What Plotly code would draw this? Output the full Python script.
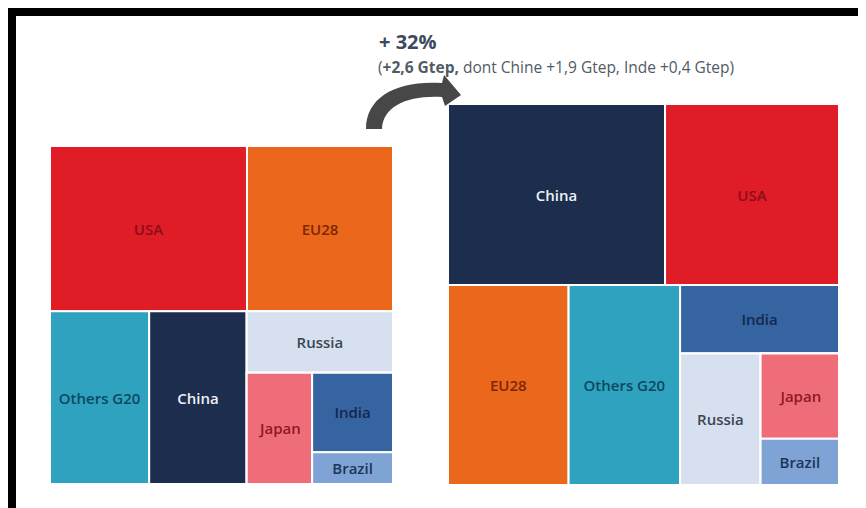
import plotly.graph_objects as go

W, H = 866, 508
OFF = 8  # the page body adds an 8px margin around the figure

# energy consumption, Gtep
countries_before = ["USA", "EU28", "Others G20", "China", "Russia", "Japan", "India", "Brazil"]
values_before = [2.28, 1.69, 1.20, 1.18, 0.63, 0.51, 0.45, 0.18]

countries_after = ["China", "USA", "EU28", "Others G20", "India", "Russia", "Japan", "Brazil"]
values_after = [2.82, 2.26, 1.73, 1.60, 0.78, 0.76, 0.48, 0.26]

title_main = "<b>+ 32%</b>"
title_sub = "(<b>+2,6 Gtep,</b> dont Chine +1,9 Gtep, Inde +0,4 Gtep)"

fill = {
    "USA": "#e01c26",
    "EU28": "#ea671b",
    "Others G20": "#2ea2bf",
    "China": "#1d2d4d",
    "Russia": "#d7e0ee",
    "Japan": "#ee6d78",
    "India": "#3564a1",
    "Brazil": "#7fa3d5",
}
ink = {
    "USA": "#8c0d1c",
    "EU28": "#7d2608",
    "Others G20": "#0c4860",
    "China": "#eef1f6",
    "Russia": "#3b4652",
    "Japan": "#8e1825",
    "India": "#13284d",
    "Brazil": "#1d3459",
}

# nesting used to reproduce the original tiling (rows / columns)
LAYOUT = [[0, 1], [2, 3, [4, [5, [6, 7]]]]]


def build(prefix, names, vals):
    ids, labels, parents, values, colors, text, tcol = [], [], [], [], [], [], []

    def walk(node, parent, key):
        if isinstance(node, int):
            n = names[node]
            ids.append(prefix + n)
            labels.append(n)
            parents.append(parent)
            values.append(vals[node])
            colors.append(fill[n])
            text.append(n)
            tcol.append(ink[n])
            return
        gid = prefix + key
        ids.append(gid)
        labels.append(key)
        parents.append(parent)
        values.append(0)
        colors.append("white")
        text.append("")
        tcol.append("white")
        for i, child in enumerate(node):
            walk(child, gid, key + str(i))

    walk(LAYOUT, "", "g")
    return ids, labels, parents, values, colors, text, tcol


def treemap(prefix, names, vals, dom_x, dom_y):
    ids, labels, parents, values, colors, text, tcol = build(prefix, names, vals)
    return go.Treemap(
        ids=ids, labels=labels, parents=parents, values=values,
        branchvalues="remainder", sort=False,
        text=text, textinfo="text", textposition="middle center",
        textfont=dict(family="Open Sans", size=15, color=tcol, weight=600),
        marker=dict(colors=colors, line=dict(color="white", width=2),
                    pad=dict(t=0, l=0, r=0, b=0)),
        tiling=dict(packing="dice-slice", pad=0),
        pathbar=dict(visible=False),
        hoverinfo="label+value",
        domain=dict(x=dom_x, y=dom_y),
    )


def px_x(x):
    return (x - OFF) / W


def px_y(y):
    return 1 - (y - OFF) / H


fig = go.Figure()
fig.add_trace(treemap("L-", countries_before, values_before,
                      [px_x(50), px_x(393)], [px_y(484), px_y(146)]))
fig.add_trace(treemap("R-", countries_after, values_after,
                      [px_x(448), px_x(839)], [px_y(485), px_y(104)]))

# curved arrow (pixel coordinates -> paper)
pts = [
    ("M", [(366, 129)]),
    ("C", [(366, 96), (398, 80), (442, 83)]),
    ("L", [(444, 75)]),
    ("L", [(461, 95)]),
    ("L", [(445, 106)]),
    ("L", [(442, 97)]),
    ("C", [(408, 95), (383, 106), (382, 129)]),
]
path = ""
for cmd, ps in pts:
    path += cmd + " " + " ".join(f"{px_x(a):.4f},{px_y(b):.4f}" for a, b in ps) + " "
path += "Z"

shapes = [
    dict(type="path", path=path, xref="paper", yref="paper",
         fillcolor="#474747", line=dict(width=0)),
    # black frame of the original slide
    dict(type="rect", xref="paper", yref="paper",
         x0=px_x(8), x1=1.02, y0=px_y(16), y1=px_y(8),
         fillcolor="black", line=dict(width=0)),
    dict(type="rect", xref="paper", yref="paper",
         x0=px_x(8), x1=px_x(16), y0=-0.03, y1=px_y(8),
         fillcolor="black", line=dict(width=0)),
]

fig.update_layout(
    width=W, height=H,
    margin=dict(l=0, r=0, t=0, b=0),
    paper_bgcolor="white",
    showlegend=False,
    shapes=shapes,
    annotations=[
        dict(x=px_x(377), y=px_y(41), xref="paper", yref="paper",
             xanchor="left", yanchor="middle", showarrow=False,
             text=title_main, font=dict(family="Open Sans", size=20, color="#3b4a5c")),
        dict(x=px_x(376), y=px_y(67), xref="paper", yref="paper",
             xanchor="left", yanchor="middle", showarrow=False,
             text=title_sub, font=dict(family="Open Sans", size=15.5, color="#515b66")),
    ],
)

fig.write_html("out.html")
